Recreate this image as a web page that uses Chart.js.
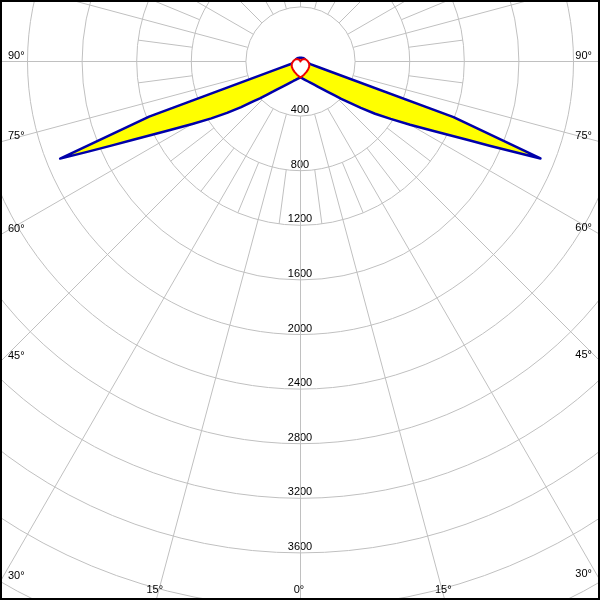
<!DOCTYPE html>
<html><head><meta charset="utf-8">
<script src="https://cdn.jsdelivr.net/npm/chart.js@4/dist/chart.umd.min.js"></script>
<style>html,body{margin:0;padding:0;background:#fff;overflow:hidden}#wrap{width:600px;height:600px;position:relative}</style>
</head><body><div id="wrap"><canvas id="c" width="600" height="600"></canvas></div>
<script>
// ---- data (cd) ----
const gammaAngles = [0,5,10,15,20,25,30,35,40,42.5,45,47.5,50,52.5,55,57.5,60,62.5,65,66,67,68,70,72.5,75,80,85,90,105,120,135,150,165,180];
const c0Values   = [117,123,131,141,154,171,194,226,273,306,349,405,468,557,667,783,927,1107,1370,1516,1687,1896,1193,140,75,55,45,40,38,36,33,30,28,27];
const c180Values = [117,122,130,140,152,169,191,222,266,300,340,398,458,548,657,775,915,1100,1360,1510,1690,1899,1180,150,78,56,46,40,38,36,33,30,28,27];
const c90Angles  = [0,15,30,45,60,75,90,105,120,135,150,165,180];
const c90Values  = [117,100,88,80,74,66,55,45,35,22,12,5,0];
const c270Values = [117,100,88,80,74,66,55,45,35,22,12,5,0];
const ringValues = [400,800,1200,1600,2000,2400,2800,3200,3600,4000,4400];
const ringLabels = ['400','800','1200','1600','2000','2400','2800','3200','3600'];
const angleTicks = [90,75,60,45,30,15,0];
const angleTickLabels = ['90°','75°','60°','45°','30°','15°','0°'];

// ---- layout ----
const W = 600, H = 600;
const CX = 300.5, CY = 61.5;           // pole position in px
const PX_PER_CD = 54.6 / 400;
const GRID = '#c0c0c0';
const FONT = '11px "Liberation Sans", Arial, sans-serif';

function polar(angles, vals, side) { // side: -1 left, +1 right
  return angles.map((g, i) => {
    const r = g * Math.PI / 180;
    return {x: side * vals[i] * Math.sin(r), y: -vals[i] * Math.cos(r)};
  });
}
function closedCurve(angles, leftVals, rightVals) {
  const left = polar(angles, leftVals, -1).reverse();
  const right = polar(angles, rightVals, 1).slice(1);
  const pts = left.concat(right);
  pts.push(pts[0]);
  return pts;
}

const gridPlugin = {
  id: 'polarGrid',
  beforeDatasetsDraw(chart) {
    const {ctx, scales: {x, y}} = chart;
    const cx = x.getPixelForValue(0), cy = y.getPixelForValue(0);
    const k = (x.getPixelForValue(1000) - cx) / 1000;
    ctx.save();
    ctx.fillStyle = '#000';
    ctx.font = FONT;
    ctx.textAlign = 'center';
    ctx.textBaseline = 'alphabetic';
    ringLabels.forEach((t, i) => {
      ctx.fillText(t, cx - 0.5, cy + ringValues[i] * k - 3);
    });
    ctx.strokeStyle = GRID;
    ctx.lineWidth = 1;
    ringValues.forEach(v => {
      ctx.beginPath(); ctx.arc(cx, cy, v * k, 0, Math.PI * 2); ctx.stroke();
    });
    const rIn = ringValues[0] * k;
    const r2 = ringValues[1] * k;
    const r3 = ringValues[2] * k;
    const rFar = 5000 * k;
    for (let a = 0; a < 360; a += 7.5) {
      const major = (a % 15) === 0;
      const rad = a * Math.PI / 180;
      const dx = Math.sin(rad), dy = Math.cos(rad);
      const ra = major ? rIn : r2;
      const rb = major ? rFar : r3;
      ctx.beginPath();
      ctx.moveTo(cx + dx * ra, cy + dy * ra);
      ctx.lineTo(cx + dx * rb, cy + dy * rb);
      ctx.stroke();
    }
    ctx.restore();
  },
  afterDatasetsDraw(chart) {
    const {ctx, scales: {x, y}} = chart;
    const cx = x.getPixelForValue(0), cy = y.getPixelForValue(0);
    const w = chart.width, h = chart.height;
    ctx.save();
    ctx.fillStyle = '#000';
    ctx.font = FONT;
    angleTicks.forEach((a, i) => {
      const rad = a * Math.PI / 180;
      const s = Math.sin(rad), c = Math.cos(rad);
      [-1, 1].forEach(side => {
        if (a === 0 && side === 1) return;
        const tx = s > 1e-9 ? (side < 0 ? cx : w - cx) / s : Infinity;
        const ty = c > 1e-9 ? (h - cy) / c : Infinity;
        if (tx < ty) {
          const ye = cy + tx * c;
          ctx.textAlign = side < 0 ? 'left' : 'right';
          ctx.fillText(angleTickLabels[i], side < 0 ? 8 : w - 8, ye - 3);
        } else {
          const xe = cx + side * ty * s;
          ctx.textAlign = 'center';
          ctx.fillText(angleTickLabels[i], xe - 1.5, h - 7);
        }
      });
    });
    ctx.strokeStyle = '#000';
    ctx.lineWidth = 2;
    ctx.strokeRect(1, 1, w - 2, h - 2);
    ctx.restore();
  }
};

new Chart(document.getElementById('c'), {
  type: 'scatter',
  data: {
    datasets: [
      {
        label: 'C0-C180',
        data: closedCurve(gammaAngles, c180Values, c0Values),
        showLine: true, pointRadius: 0, borderColor: '#0000aa', borderWidth: 2.5,
        backgroundColor: '#ffff00', fill: 'shape', tension: 0, order: 2,
        borderJoinStyle: 'round'
      },
      {
        label: 'C90-C270',
        data: closedCurve(c90Angles, c270Values, c90Values),
        showLine: true, pointRadius: 0, borderColor: '#ee0000', borderWidth: 2,
        backgroundColor: '#ffffff', fill: 'shape', tension: 0, order: 1,
        borderJoinStyle: 'round'
      }
    ]
  },
  options: {
    responsive: false, animation: false, events: [],
    layout: {padding: 0},
    scales: {
      x: {type: 'linear', display: false, min: -CX / PX_PER_CD, max: (W - CX) / PX_PER_CD},
      y: {type: 'linear', display: false, min: -(H - CY) / PX_PER_CD, max: CY / PX_PER_CD}
    },
    plugins: {legend: {display: false}, tooltip: {enabled: false}, filler: {drawTime: 'beforeDatasetDraw'}}
  },
  plugins: [gridPlugin]
});
</script>
</body></html>
